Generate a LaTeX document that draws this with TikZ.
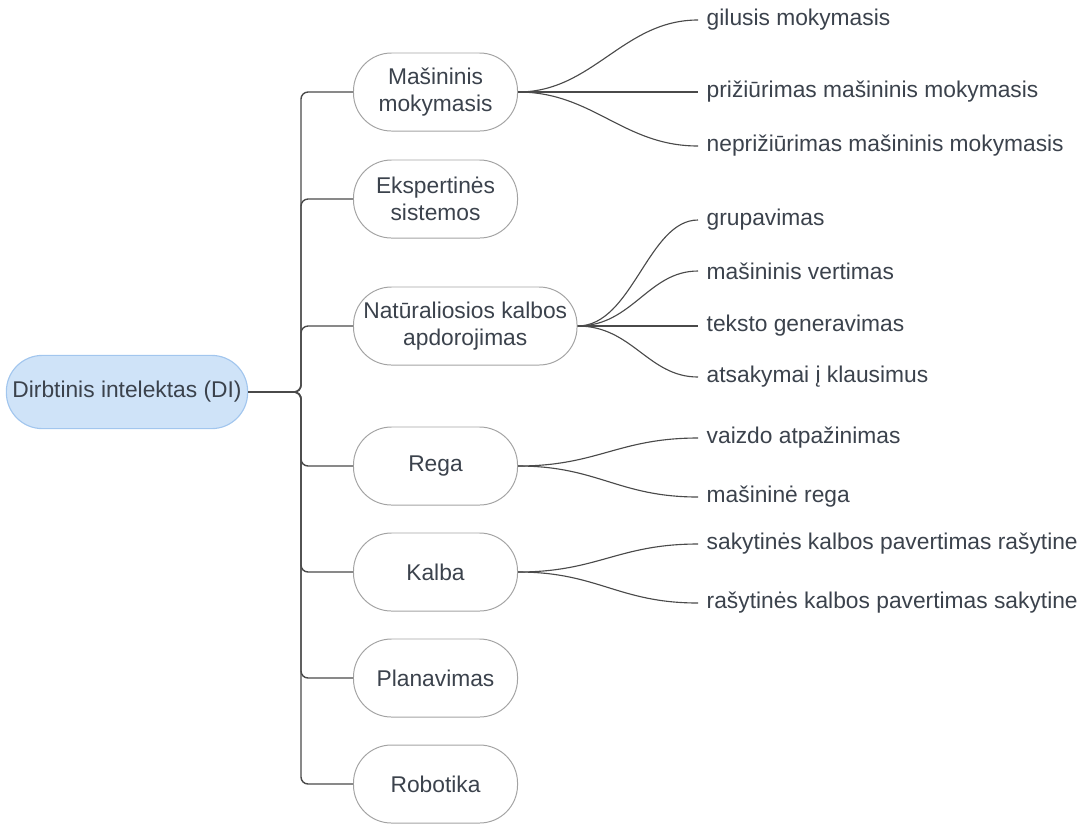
\documentclass[tikz,border=0pt]{standalone}
\usepackage{fontspec}
\setmainfont{Liberation Sans}
\usetikzlibrary{positioning}

\definecolor{inkgray}{HTML}{3B424C}
\definecolor{linegray}{HTML}{4A4A4A}
\definecolor{topicline}{HTML}{A3A3A3}
\definecolor{rootfill}{HTML}{CFE3F8}
\definecolor{rootline}{HTML}{A2C6EE}

\begin{document}
\begin{tikzpicture}[
  x=0.025cm, y=-0.025cm,
  every node/.style={font=\fontsize{16.2}{19.5}\selectfont, text=inkgray},
  rootbox/.style={draw=rootline, fill=rootfill, line width=0.8pt,
                  rounded corners=0.9cm, minimum width=6.03cm,
                  minimum height=1.83cm},
  topic/.style={draw=topicline, line width=0.7pt, rounded corners=0.95cm,
                minimum width=4.1cm, minimum height=1.95cm,
                align=center, anchor=west, inner xsep=7pt},
  leaf/.style={anchor=west, inner xsep=6pt},
  trunk/.style={draw=linegray, line width=1pt, rounded corners=5pt},
  twig/.style={draw=linegray, line width=0.8pt},
]
  \useasboundingbox (0,0) rectangle (1084,825);

  \node[rootbox] (di) at (127,392) {Dirbtinis intelektas (DI)};
  \coordinate (hub) at (301,392);

  % Main topics
  \node[topic] (ml)    at (353,92)  {Mašininis\\mokymasis};
  \node[topic] (es)    at (353,199) {Ekspertinės\\sistemos};
  \node[topic] (nlp)   at (353,326) {Natūraliosios kalbos\\apdorojimas};
  \node[topic] (rega)  at (353,466) {Rega};
  \node[topic] (kalba) at (353,572) {Kalba};
  \node[topic] (plan)  at (353,678) {Planavimas};
  \node[topic] (robot) at (353,784) {Robotika};

  \foreach \t in {ml,es,nlp,rega,kalba,plan,robot}
    \draw[trunk] (di.east) -- (hub) |- (\t.west);

  % Subtopics
  \node[leaf] (gil)  at (698,20)  {gilusis mokymasis};
  \node[leaf] (priz) at (698,92)  {prižiūrimas mašininis mokymasis};
  \node[leaf] (nepr) at (698,146) {neprižiūrimas mašininis mokymasis};

  \node[leaf] (grup) at (698,220) {grupavimas};
  \node[leaf] (vert) at (698,271) {mašininis vertimas};
  \node[leaf] (gen)  at (698,326) {teksto generavimas};
  \node[leaf] (qa)   at (698,377) {atsakymai į klausimus};

  \node[leaf] (vaiz) at (698,438) {vaizdo atpažinimas};
  \node[leaf] (mreg) at (698,497) {mašininė rega};

  \node[leaf] (sak)  at (698,544) {sakytinės kalbos pavertimas rašytine};
  \node[leaf] (ras)  at (698,603) {rašytinės kalbos pavertimas sakytine};

  \draw[twig] (ml.east) .. controls +(75,0) and +(-75,0) .. (gil.west);
  \draw[twig] (ml.east) -- (priz.west);
  \draw[twig] (ml.east) .. controls +(75,0) and +(-75,0) .. (nepr.west);

  \draw[twig] (nlp.east) .. controls +(55,0) and +(-50,0) .. (grup.west);
  \draw[twig] (nlp.east) .. controls +(55,0) and +(-50,0) .. (vert.west);
  \draw[twig] (nlp.east) .. controls +(55,0) and +(-50,0) .. (gen.west);
  \draw[twig] (nlp.east) .. controls +(55,0) and +(-50,0) .. (qa.west);

  \draw[twig] (rega.east) .. controls +(80,0) and +(-80,0) .. (vaiz.west);
  \draw[twig] (rega.east) .. controls +(80,0) and +(-80,0) .. (mreg.west);

  \draw[twig] (kalba.east) .. controls +(80,0) and +(-80,0) .. (sak.west);
  \draw[twig] (kalba.east) .. controls +(80,0) and +(-80,0) .. (ras.west);
\end{tikzpicture}
\end{document}
